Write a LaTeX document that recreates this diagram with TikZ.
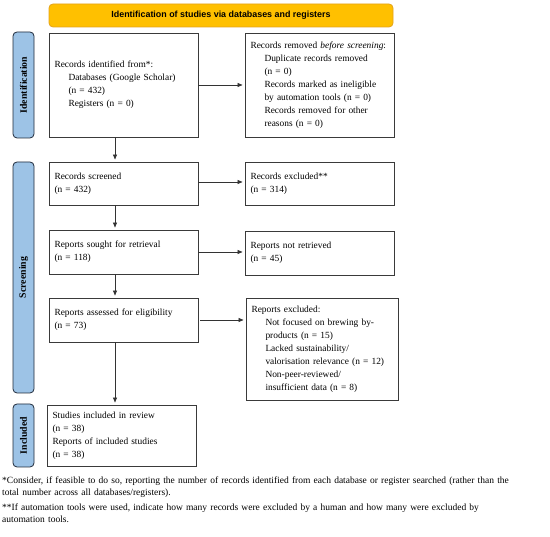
\documentclass[tikz,border=0pt]{standalone}
\usepackage{fontspec}
\setmainfont{Liberation Serif}
\setsansfont{Liberation Sans}
\usetikzlibrary{arrows.meta,positioning}

\definecolor{bannerfill}{HTML}{FFC000}
\definecolor{bannerdraw}{HTML}{E3A21A}
\definecolor{phasefill}{HTML}{9DC3E6}
\definecolor{phasedraw}{HTML}{1F2A3A}
\definecolor{boxdraw}{HTML}{3A3A3A}

\newcommand{\ind}{\hspace*{14pt}}

\begin{document}
\begin{tikzpicture}[
  x=1pt, y=1pt,
  font=\fontsize{9.4}{13}\selectfont,
  >={Triangle[length=5pt,width=4pt]},
  banner/.style={
    rectangle, rounded corners=4pt,
    draw=bannerdraw, fill=bannerfill, line width=0.8pt,
    minimum width=344pt, minimum height=23pt, inner sep=0pt,
    font=\sffamily\bfseries\fontsize{8.9}{10}\selectfont
  },
  phase/.style={
    rectangle, rounded corners=4pt,
    draw=phasedraw, fill=phasefill, line width=0.8pt,
    rotate=90, minimum height=21pt, inner sep=0pt,
    font=\bfseries\fontsize{9.8}{11}\selectfont
  },
  rec/.style={
    rectangle, draw=boxdraw, line width=0.9pt,
    text width=138pt, align=left,
    inner xsep=5.5pt, inner ysep=2pt
  },
  arr/.style={->, line width=0.7pt, black!80, shorten >=2pt},
  note/.style={text width=548pt, align=left, inner sep=0pt,
    font=\fontsize{9.5}{12}\selectfont}
]
\useasboundingbox (0,0) rectangle (550,-537);

%% -- Header and phase labels
\node[banner] (title) at (221,-15.5) {Identification of studies via databases and registers};
\node[phase, minimum width=106pt] (pid)  at (23.5,-85)    {Identification};
\node[phase, minimum width=231pt] (pscr) at (23.5,-277.5) {Screening};
\node[phase, minimum width=63pt]  (pinc) at (23.5,-435.5) {Included};

%% -- Identification
\node[rec, minimum height=104pt] (ident) at (123.5,-85) {
  Records identified from*:\\
  \ind Databases (Google Scholar)\\
  \ind (n = 432)\\
  \ind Registers (n = 0)
};
\node[rec, minimum height=104pt] (removed) at (319.5,-85) {
  Records removed \textit{before screening}:\\
  \ind Duplicate records removed\\
  \ind (n = 0)\\
  \ind Records marked as ineligible\\
  \ind by automation tools (n = 0)\\
  \ind Records removed for other\\
  \ind reasons (n = 0)
};
\draw[arr] (ident.east) -- (removed.west);

%% -- Screening
\node[rec, minimum height=43pt] (screened) at (123.5,-183.5) {Records screened\\(n = 432)};
\node[rec, minimum height=43pt] (excluded) at (319.5,-183.5) {Records excluded**\\(n = 314)};
\draw[arr] ([xshift=-8.5pt]ident.south) -- ([xshift=-8.5pt]screened.north);
\draw[arr] ([yshift=1.5pt]screened.east) -- ([yshift=1.5pt]excluded.west);

\node[rec, minimum height=44pt] (sought)  at (123.5,-252) {Reports sought for retrieval\\(n = 118)};
\node[rec, minimum height=44pt] (notretr) at (319.5,-253) {Reports not retrieved\\(n = 45)};
\draw[arr] ([xshift=-8.5pt]screened.south) -- ([xshift=-8.5pt]sought.north);
\draw[arr] (sought.east) -- (sought.east -| notretr.west);

\node[rec, minimum height=44pt] (assessed) at (123.5,-320) {Reports assessed for eligibility\\(n = 73)};
\node[rec, text width=141pt, minimum height=102pt] (repexcl) at (322,-349) {
  Reports excluded:\\
  \ind Not focused on brewing by-\\
  \ind products (n = 15)\\
  \ind Lacked sustainability/\\
  \ind valorisation relevance (n = 12)\\
  \ind Non-peer-reviewed/\\
  \ind insufficient data (n = 8)
};
\draw[arr] ([xshift=-8.5pt]sought.south) -- ([xshift=-8.5pt]assessed.north);
\draw[arr] ([xshift=2pt]assessed.east) -- (assessed.east -| repexcl.west);

%% -- Included
\node[rec, minimum height=61pt] (included) at (121.5,-435.5) {
  Studies included in review\\
  (n = 38)\\
  Reports of included studies\\
  (n = 38)
};
\draw[arr] ([xshift=-8.5pt]assessed.south) -- ([xshift=-6.5pt]included.north);

%% -- Footnotes
\node[note, anchor=north west] (fn) at (2,-477) {
  *Consider, if feasible to do so, reporting the number of records identified from each database or register searched (rather than the\\
  total number across all databases/registers).\\[3pt]
  **If automation tools were used, indicate how many records were excluded by a human and how many were excluded by\\
  automation tools.
};

\end{tikzpicture}
\end{document}
